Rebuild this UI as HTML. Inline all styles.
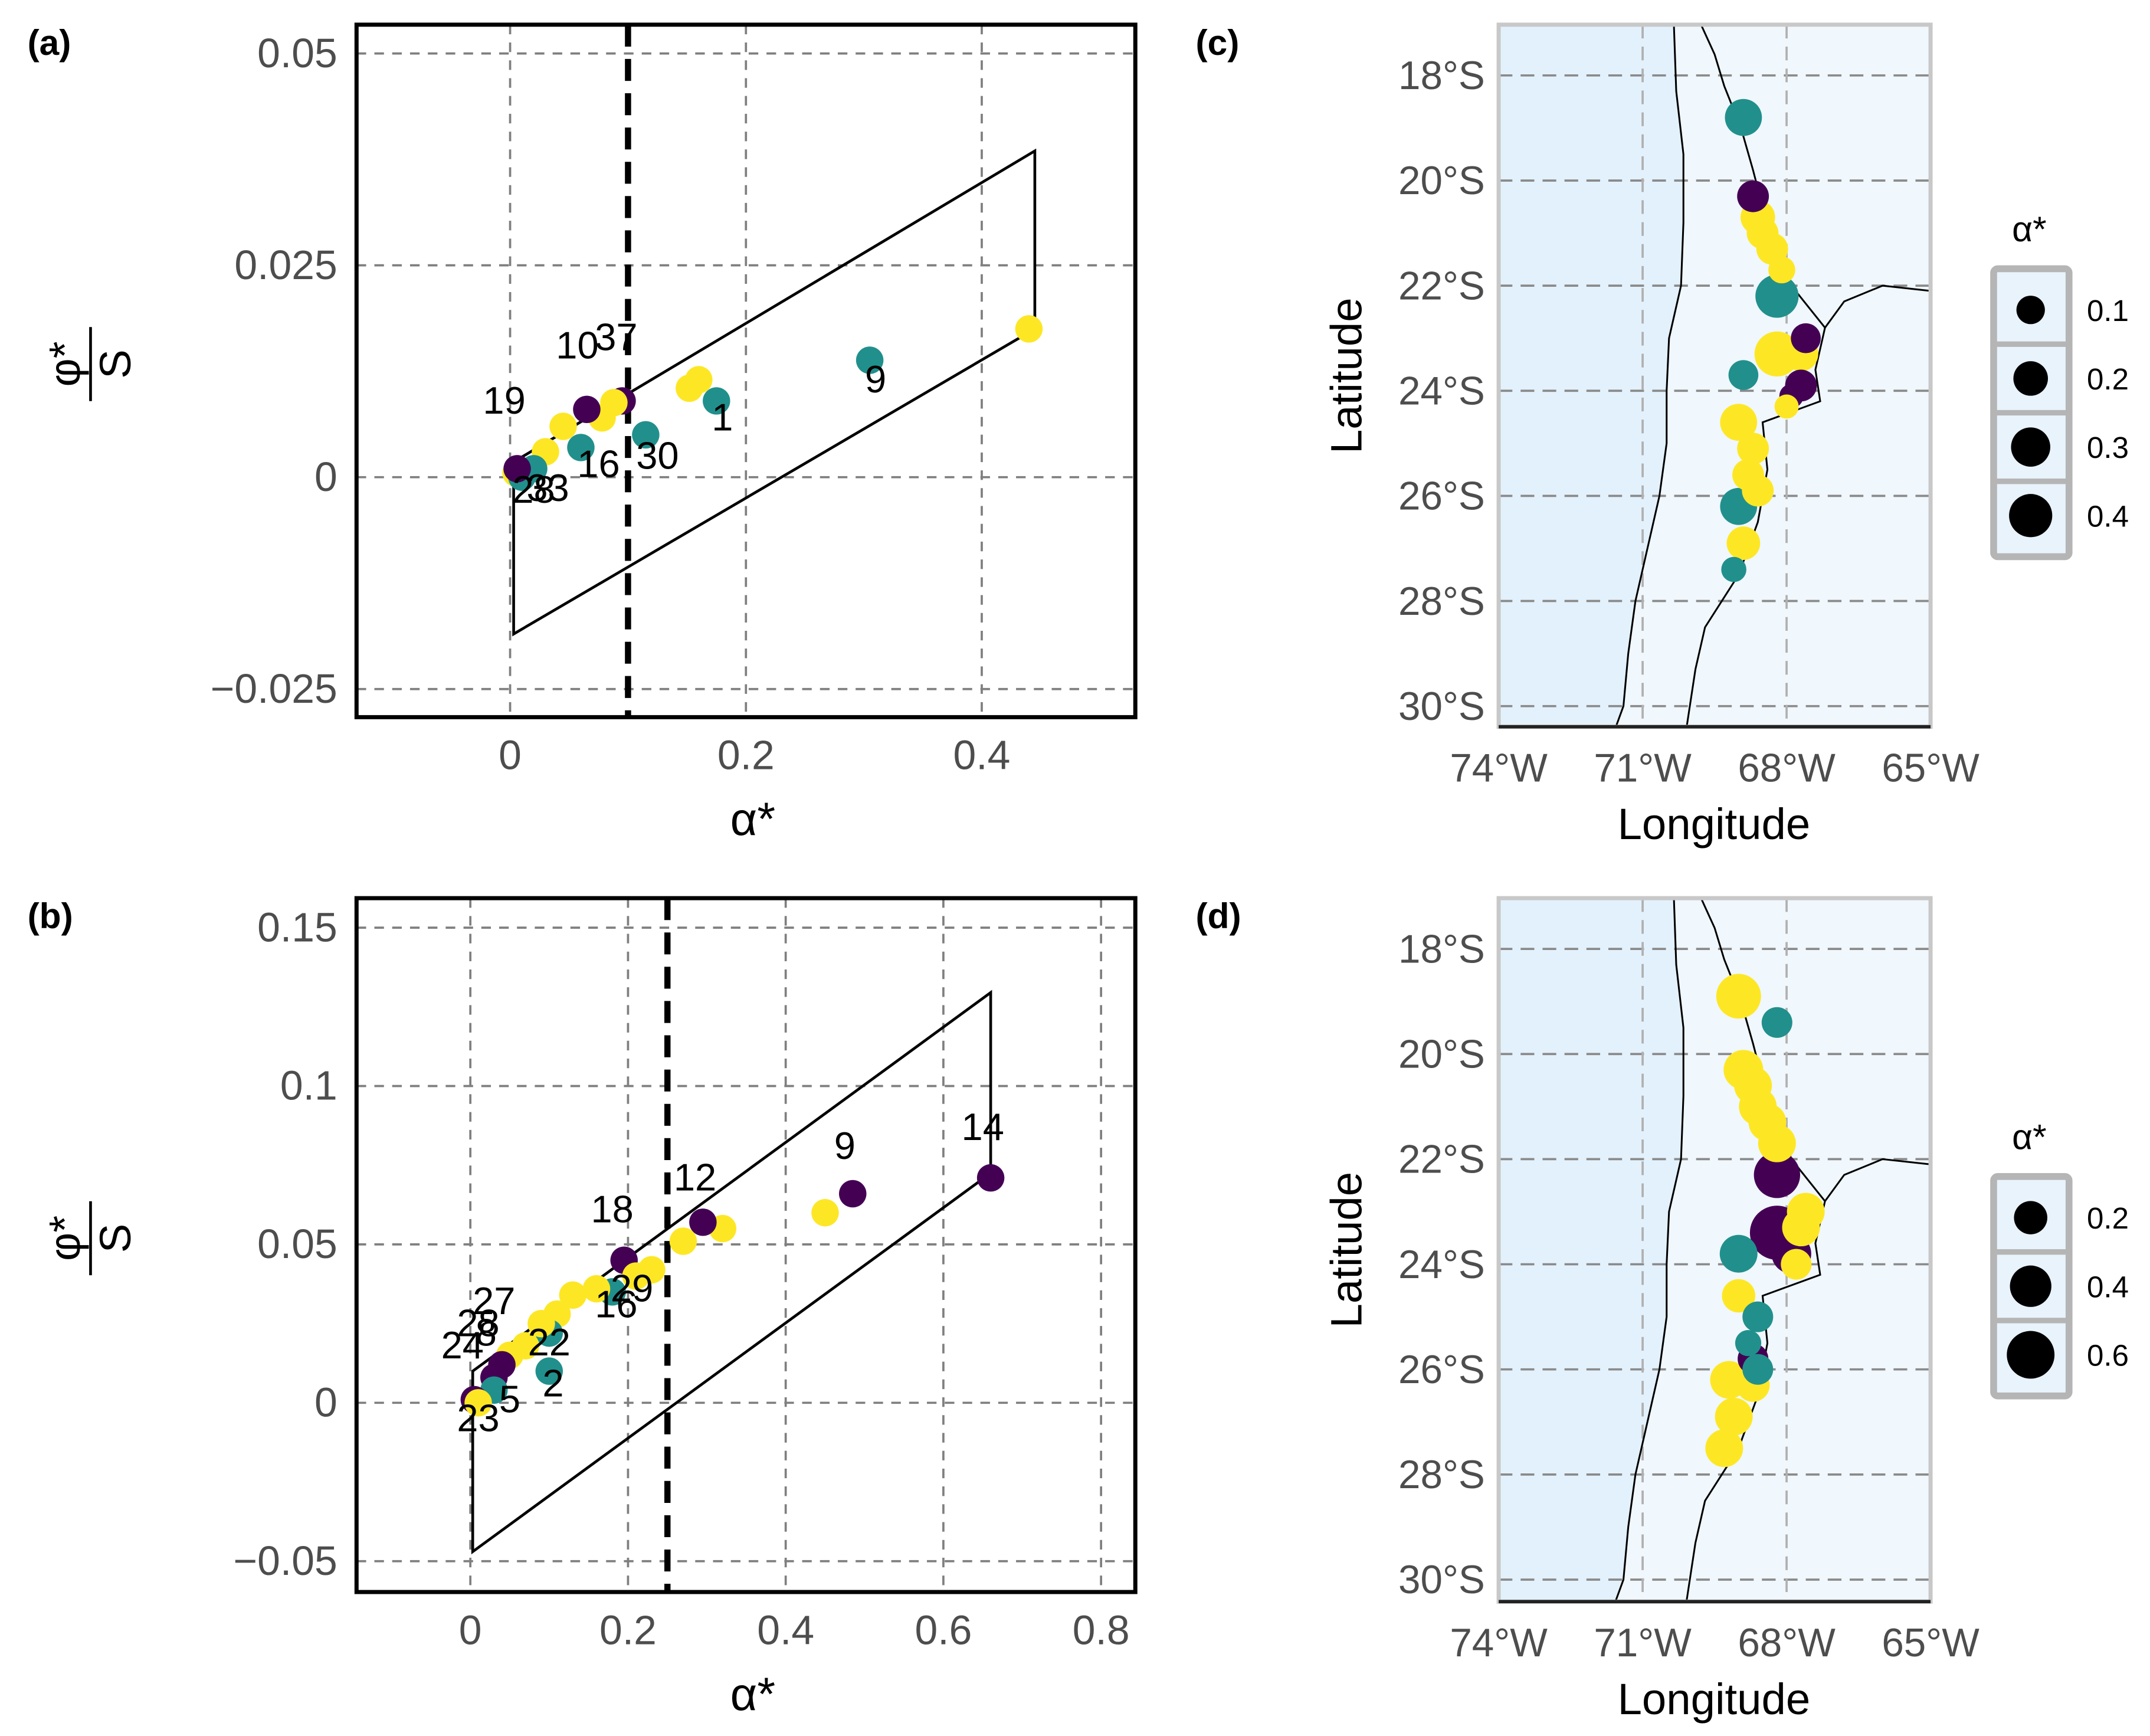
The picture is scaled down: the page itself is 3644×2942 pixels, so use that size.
<!DOCTYPE html>
<html><head><meta charset="utf-8"><style>
html,body{margin:0;padding:0;background:#fff;}
svg{display:block;font-family:"Liberation Sans",Arial,sans-serif;}
</style></head><body>
<svg id="fig" width="3644" height="2942" viewBox="0 0 1568 1266" xmlns="http://www.w3.org/2000/svg">
<rect x="0" y="0" width="1568" height="1266" fill="#fff"/>
</svg>
<script>
// ---- Panel (a) data ----
const aX=[0.44,0.305,0.175,0.16,0.152,0.115,0.095,0.088,0.078,0.065,0.06,0.045,0.03,0.02,0.005,0.01,0.006];
const aY=[0.0175,0.0138,0.009,0.0115,0.0105,0.005,0.009,0.0088,0.007,0.008,0.0035,0.006,0.003,0.001,0.0005,0.0,0.001];
const aC=["y","t","t","y","y","t","p","y","y","p","t","y","y","t","y","t","p"];
const aLab=["1","9","30","16","19","10","37","28","33"];
const aLabX=[0.18,0.31,0.125,0.075,-0.005,0.057,0.09,0.02,0.032];
const aLabY=[0.0055,0.01,0.001,0.0,0.0075,0.014,0.015,-0.003,-0.0028];
const aXt=[0,0.2,0.4], aXtL=["0","0.2","0.4"];
const aYt=[0.05,0.025,0,-0.025], aYtL=["0.05","0.025","0","\u22120.025"];
// ---- Panel (b) data ----
const bX=[0.66,0.485,0.45,0.32,0.295,0.27,0.23,0.195,0.21,0.18,0.16,0.13,0.11,0.1,0.09,0.1,0.07,0.05,0.04,0.03,0.03,0.005,0.01];
const bY=[0.071,0.066,0.06,0.055,0.057,0.051,0.042,0.045,0.04,0.035,0.036,0.034,0.028,0.022,0.025,0.01,0.018,0.015,0.012,0.008,0.004,0.001,0.0];
const bC=["p","p","y","y","p","y","y","p","y","t","y","y","y","t","y","t","y","y","p","p","t","p","y"];
const bLab=["14","9","12","18","29","16","27","28","24","8","22","2","5","23"];
const bLabX=[0.65,0.475,0.285,0.18,0.205,0.185,0.03,0.01,-0.01,0.02,0.1,0.105,0.05,0.01];
const bLabY=[0.083,0.077,0.067,0.057,0.032,0.027,0.028,0.021,0.014,0.018,0.015,0.002,-0.003,-0.009];
const bXt=[0,0.2,0.4,0.6,0.8], bXtL=["0","0.2","0.4","0.6","0.8"];
const bYt=[0.15,0.1,0.05,0,-0.05], bYtL=["0.15","0.1","0.05","0","\u22120.05"];
// ---- Map (c) data ----
const cLon=[-68.9,-68.7,-68.6,-68.5,-68.3,-68.1,-68.2,-67.6,-68.2,-67.7,-68.9,-67.7,-67.9,-68.0,-69.0,-68.7,-68.8,-68.6,-69.0,-68.9,-69.1];
const cLat=[18.8,20.3,20.7,21.0,21.3,21.7,22.2,23.0,23.3,23.3,23.7,23.9,24.1,24.3,24.6,25.1,25.6,25.9,26.2,26.9,27.4];
const cA=[0.25,0.15,0.2,0.15,0.15,0.08,0.4,0.12,0.45,0.2,0.12,0.15,0.05,0.05,0.25,0.15,0.15,0.15,0.25,0.18,0.06];
const cC=["t","p","y","y","y","y","t","p","y","y","t","p","p","y","y","y","y","y","t","y","t"];
// ---- Map (d) data ----
const dLon=[-69.0,-68.2,-68.9,-68.7,-68.6,-68.4,-68.2,-68.2,-67.6,-68.2,-67.7,-67.9,-67.8,-69.0,-69.0,-68.6,-68.8,-68.7,-68.6,-69.2,-68.7,-69.1,-69.3];
const dLat=[18.9,19.4,20.3,20.6,21.0,21.3,21.7,22.3,23.0,23.4,23.3,23.8,24.0,23.8,24.6,25.0,25.5,25.8,26.0,26.2,26.3,26.9,27.5];
const dA=[0.5,0.15,0.35,0.3,0.3,0.3,0.3,0.55,0.3,0.85,0.3,0.35,0.15,0.3,0.2,0.15,0.08,0.15,0.15,0.3,0.2,0.3,0.3];
const dC=["y","t","y","y","y","y","y","p","y","p","y","p","y","t","y","t","t","p","t","y","y","y","y"];
const cLegV=[0.1,0.2,0.3,0.4], dLegV=[0.2,0.4,0.6];
const latT=[18,20,22,24,26,28,30], lonT=[74,71,68,65];

const COL={p:"#440154",t:"#21908C",y:"#FDE725"};
const NS="http://www.w3.org/2000/svg";
const svg=document.getElementById("fig");
function mk(tag,at,parent){const e=document.createElementNS(NS,tag);for(const k in at)e.setAttribute(k,at[k]);(parent||svg).appendChild(e);return e;}
function txt(s,at,parent){const e=mk("text",at,parent);e.textContent=s;return e;}

function scatter(P){
  const g=mk("g",{});
  
  
  const sx=v=>P.x0+(v-P.xv0)*P.kx, sy=v=>P.y0-(v-P.yv0)*P.ky;
  P.xt.forEach((v,i)=>{
    const l=mk("line",{x1:sx(v),x2:sx(v),y1:P.top,y2:P.bot,stroke:"#7f7f7f","stroke-width":1.6,"stroke-dasharray":"7,6"},g);
    
    
    const t=txt(P.xtL[i],{x:sx(v),y:P.bot+38,"font-size":30,fill:"#4d4d4d","text-anchor":"middle"},g);
    
    
  });
  P.yt.forEach((v,i)=>{
    const l=mk("line",{x1:P.left,x2:P.right,y1:sy(v),y2:sy(v),stroke:"#7f7f7f","stroke-width":1.6,"stroke-dasharray":"7,6"},g);
    
    
    const t=txt(P.ytL[i],{x:P.left-14,y:sy(v)+10,"font-size":30,fill:"#4d4d4d","text-anchor":"end"},g);
    
    
  });
  const pts=P.poly.map(p=>sx(p[0])+","+sy(p[1])).join(" ");
  const pg=mk("polygon",{points:pts,fill:"none",stroke:"#000","stroke-width":2},g);
  
  
  const vl=mk("line",{x1:sx(P.vline),x2:sx(P.vline),y1:P.top,y2:P.bot,stroke:"#000","stroke-width":4.5,"stroke-dasharray":"16,9"},g);
  
  
  P.X.forEach((v,i)=>{
    const c=mk("circle",{cx:sx(v),cy:sy(P.Y[i]),r:10,fill:COL[P.C[i]]},g);
    
    
  });
  P.lab.forEach((s,i)=>{
    const t=txt(s,{x:sx(P.labX[i]),y:sy(P.labY[i]),"font-size":28,fill:"#000","text-anchor":"middle"},g);
    
    
  });
  const fr=mk("rect",{x:P.left,y:P.top,width:P.right-P.left,height:P.bot-P.top,fill:"none",stroke:"#000","stroke-width":3},g);
  
  
  const xt=txt("\u03b1*",{x:(P.left+P.right)/2+5,y:P.bot+86,"font-size":34,fill:"#000","text-anchor":"middle"},g);
  
  
  const yg=mk("g",{transform:`translate(66,${(P.top+P.bot)/2-5}) rotate(-90)`},g);
  
  
  txt("\u03c6*",{x:0,y:-8,"font-size":32,"text-anchor":"middle"},yg);
  mk("line",{x1:-27,x2:27,y1:0,y2:0,stroke:"#000","stroke-width":2},yg);
  txt("S",{x:0,y:29,"font-size":32,"text-anchor":"middle"},yg);
  const pl=txt(P.panel,{x:20,y:P.top+22,"font-size":26,"font-weight":"bold"},g);
  
  
}

scatter({name:"panel-a",left:260,right:828,top:18,bot:523,x0:372,xv0:0,kx:860,y0:348,yv0:0,ky:6180,
  xt:aXt,xtL:aXtL,yt:aYt,ytL:aYtL,poly:[[0.003,-0.0185],[0.003,0.0018],[0.445,0.0385],[0.445,0.0175]],vline:0.1,
  X:aX,Y:aY,C:aC,lab:aLab,labX:aLabX,labY:aLabY,panel:"(a)"});
scatter({name:"panel-b",left:260,right:828,top:655,bot:1161,x0:343,xv0:0,kx:575,y0:1023,yv0:0,ky:2310,
  xt:bXt,xtL:bXtL,yt:bYt,ytL:bYtL,poly:[[0.003,-0.047],[0.003,0.01],[0.66,0.1295],[0.66,0.0725]],vline:0.25,
  X:bX,Y:bY,C:bC,lab:bLab,labX:bLabX,labY:bLabY,panel:"(b)"});

const coast=[[-70.35,17.0],[-70.3,18.3],[-70.15,19.5],[-70.15,20.8],[-70.2,22.0],[-70.45,23.0],[-70.5,24.0],[-70.5,25.0],[-70.65,26.0],[-70.9,27.0],[-71.15,28.0],[-71.3,29.0],[-71.4,30.0],[-71.6,30.5]];
const border1=[[-69.8,17.0],[-69.5,17.6],[-69.3,18.2],[-68.95,19.0],[-68.7,19.8],[-68.5,20.5],[-68.2,21.2],[-67.9,22.0],[-67.2,22.8]];
const border2=[[-67.2,22.8],[-66.8,22.3],[-66.0,22.0],[-65,22.1]];
const border3=[[-67.2,22.8],[-67.4,23.6],[-67.3,24.2],[-68.5,24.6],[-68.4,25.5],[-68.6,26.5],[-69.0,27.5],[-69.7,28.5],[-69.9,29.3],[-70.1,30.5]];
function map(P){
  const g=mk("g",{});
  
  
  const L=1093,R=1408,T=P.top,B=P.bot;
  const sx=lon=>L+(74+lon)*35, sy=lat=>P.y18+(lat-18)*38.33;
  const cp=mk("clipPath",{id:"clip"+P.name},g);
  mk("rect",{x:L,y:T,width:R-L,height:B-T},cp);
  const cg=mk("g",{"clip-path":`url(#clip${P.name})`},g);
  const land=mk("rect",{x:L,y:T,width:R-L,height:B-T,fill:"#f0f7fd"},cg);
  
  
  const seaPts=[[L,T-5]].concat(coast.map(p=>[sx(p[0]),sy(p[1])])).concat([[L,B+5]]);
  const sea=mk("polygon",{points:seaPts.map(p=>p.join(",")).join(" "),fill:"#e3f1fc"},cg);
  
  
  latT.forEach(v=>{
    const l=mk("line",{x1:L,x2:R,y1:sy(v),y2:sy(v),stroke:"#8a8a8a","stroke-width":1.6,"stroke-dasharray":"10,6"},cg);
    
    
  });
  lonT.forEach(v=>{
    const l=mk("line",{x1:sx(-v),x2:sx(-v),y1:T,y2:B,stroke:"#b0b0b0","stroke-width":1.6,"stroke-dasharray":"10,6"},cg);
    
    
  });
  [coast,border1,border2,border3].forEach(line=>{
    const pl=mk("polyline",{points:line.map(p=>sx(p[0])+","+sy(p[1])).join(" "),fill:"none",stroke:"#000","stroke-width":1.3},cg);
    
    
  });
  const order=P.A.map((a,i)=>i).sort((i,j)=>P.A[j]-P.A[i]);
  order.forEach(i=>{
    const c=mk("circle",{cx:sx(P.lon[i]),cy:sy(P.lat[i]),r:P.rs(P.A[i]),fill:COL[P.C[i]]},cg);
    
    
  });
  const fr=mk("rect",{x:L,y:T,width:R-L,height:B-T,fill:"none",stroke:"#c8c8c8","stroke-width":3},g);
  
  
  mk("line",{x1:L,x2:R,y1:B,y2:B,stroke:"#222","stroke-width":2.5},g);
  latT.forEach(v=>{
    const t=txt(v+"\u00b0S",{x:L-10,y:sy(v)+10,"font-size":29,fill:"#4d4d4d","text-anchor":"end"},g);
    
    
  });
  lonT.forEach(v=>{
    const t=txt(v+"\u00b0W",{x:sx(-v),y:B+40,"font-size":29,fill:"#4d4d4d","text-anchor":"middle"},g);
    
    
  });
  const xt=txt("Longitude",{x:1250,y:B+82,"font-size":32,"text-anchor":"middle"},g);
  
  
  const yt=txt("Latitude",{x:0,y:0,"font-size":32,"text-anchor":"middle",transform:`translate(993,${(T+B)/2}) rotate(-90)`},g);
  
  
  const pl=txt(P.panel,{x:872,y:T+22,"font-size":26,"font-weight":"bold"},g);
  
  
  const lg=mk("g",{},g);
  
  
  txt("\u03b1*",{x:1480,y:P.legTop-20,"font-size":26,"text-anchor":"middle"},lg);
  const h=P.legV.length*50+10;
  mk("rect",{x:1454,y:P.legTop,width:55,height:h,fill:"#e8f3fb",stroke:"#b5b5b5","stroke-width":5,rx:3},lg);
  P.legV.forEach((v,i)=>{
    const cy=P.legTop+30+i*50;
    if(i>0)mk("line",{x1:1456,x2:1507,y1:cy-25,y2:cy-25,stroke:"#b5b5b5","stroke-width":4},lg);
    const c=mk("circle",{cx:1481,cy:cy,r:P.rs(v),fill:"#000"},lg);
    
    
    const t=txt(String(v),{x:1522,y:cy+8,"font-size":22},lg);
    
    
  });
}
map({name:"panel-c",top:18,bot:530,y18:55,lon:cLon,lat:cLat,A:cA,C:cC,legV:cLegV,legTop:196,panel:"(c)",rs:a=>5+Math.sqrt(a)*17});
map({name:"panel-d",top:655,bot:1168,y18:692,lon:dLon,lat:dLat,A:dA,C:dC,legV:dLegV,legTop:858,panel:"(d)",rs:a=>5+Math.sqrt(a)*16});
</script>
</body></html>
